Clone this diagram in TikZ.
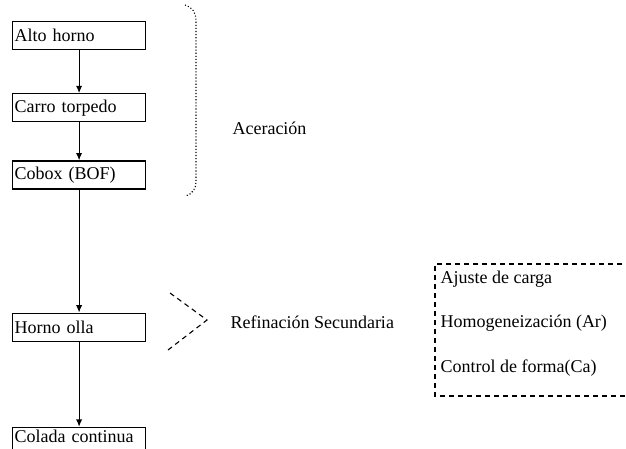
\documentclass[tikz,border=0pt]{standalone}
\usepackage{fontspec}
\setmainfont{Liberation Serif}
\usetikzlibrary{arrows.meta,positioning}

\begin{document}
\begin{tikzpicture}[
  x=1pt, y=-1pt,
  font=\fontsize{18}{21}\selectfont,
  etapa/.style={draw, line width=1.2pt, minimum width=133pt, minimum height=28pt, text width=129pt, inner xsep=2pt, inner ysep=0pt, align=left},
  flecha/.style={-{Latex[length=2.6mm,width=2.2mm]}, line width=1.2pt},
  grupo/.style={line width=1.1pt, dash pattern=on 5pt off 4pt}
]
\useasboundingbox (0,0) rectangle (626,449);
\clip (0,0) rectangle (626,449);

% etapas del proceso
\node[etapa, anchor=north west] (alto) at (12,21) {Alto horno};
\node[etapa, below=43pt of alto] (carro) {Carro torpedo};
\node[etapa, below=38pt of carro] (cobox) {Cobox (BOF)};
\node[etapa, below=123pt of cobox] (olla) {Horno olla};
\node[etapa, text height=15pt, text depth=20pt, below=85pt of olla] (colada) {Colada continua};

\draw[flecha] (alto) -- (carro);
\draw[flecha] (carro) -- (cobox);
\draw[flecha] (cobox) -- (olla);
\draw[flecha] (olla) -- (colada);

% aceracion
\draw[line width=1.1pt, dotted] (185,5) to[out=-15,in=90] (196,20) -- (196,182) to[out=-90,in=20] (186,196);
\node[anchor=west] (aceracion) at (229,128) {Aceración};

% refinacion secundaria
\draw[grupo] (170,293) -- (207,320) -- (168,350);
\node[anchor=west] (refinacion) at (227,322) {Refinación Secundaria};

\node[anchor=west] (ajuste) at (437,279) {Ajuste de carga};
\node[anchor=west] (homog) at (437,323) {Homogeneización (Ar)};
\node[anchor=west] (forma) at (437,368) {Control de forma(Ca)};
\draw[grupo] (640,264) -| (435,396) -- (640,396);
\end{tikzpicture}
\end{document}
